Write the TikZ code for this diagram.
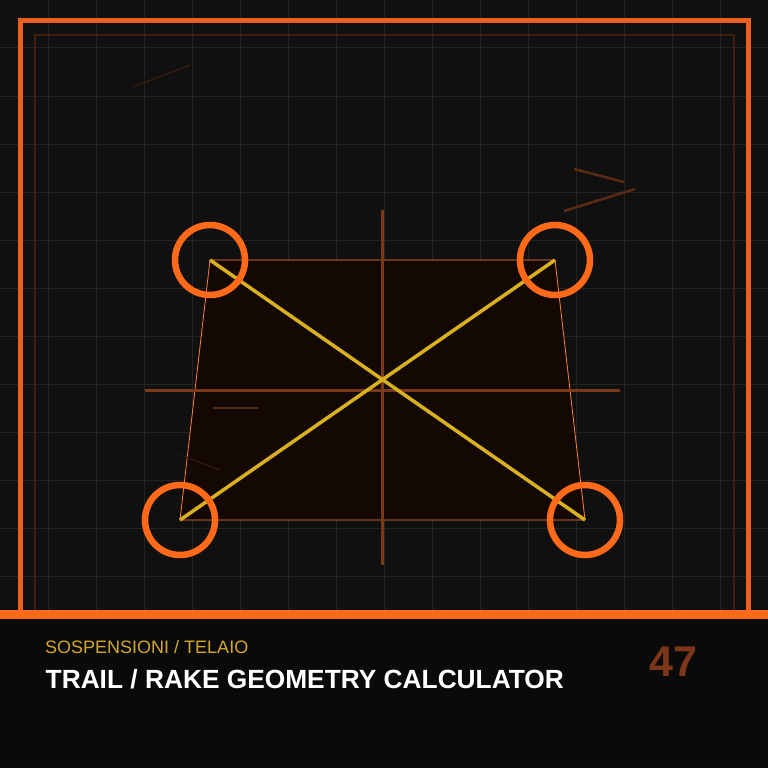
\documentclass[tikz,border=0pt]{standalone}
\usepackage{fontspec}
\setmainfont{Liberation Sans}
\definecolor{bgtop}{HTML}{101010}
\definecolor{bgbot}{HTML}{0A0A0A}
\definecolor{gridc}{HTML}{232323}
\definecolor{orng}{HTML}{FF6A1A}
\definecolor{frameo}{HTML}{EA601C}
\definecolor{darkbr}{HTML}{3E1E0E}
\definecolor{trapfill}{HTML}{140805}
\definecolor{gold}{HTML}{D9B020}
\definecolor{crossc}{HTML}{7A3A1A}
\definecolor{stray}{HTML}{5A2A14}
\definecolor{strayf}{HTML}{2E1710}
\definecolor{subt}{HTML}{D4A82A}
\definecolor{numc}{HTML}{7E3618}
\begin{document}
\begin{tikzpicture}[x=1pt,y=-1pt,
  ring/.style={circle,draw=orng,line width=6.5pt,minimum size=70pt,inner sep=0pt},
  diag/.style={draw=gold,line width=3.5pt},
  crossline/.style={draw=crossc,line width=3pt},
  txt/.style={anchor=base west,inner sep=0pt}]
\useasboundingbox (0,0) rectangle (768,768);
% backgrounds
\fill[bgtop] (0,0) rectangle (768,614);
\fill[bgbot] (0,614) rectangle (768,768);
% grid
\foreach \g in {48,96,...,720}{
  \draw[gridc,line width=1pt] (\g,0) -- (\g,610);
}
\foreach \g in {48,96,...,576}{
  \draw[gridc,line width=1pt] (0,\g) -- (768,\g);
}
% frames
\draw[darkbr,line width=1.5pt] (35,614) -- (35,35) -- (734,35) -- (734,614);
\draw[frameo,line width=4.5pt] (20.5,614) -- (20.5,20.5) -- (748.5,20.5) -- (748.5,614);
\fill[orng] (0,610) rectangle (768,619);
% stray lines
\draw[strayf!80!stray,line width=1.5pt] (133,87) -- (190,65);
\draw[stray,line width=2.5pt] (574,169) -- (624,182);
\draw[stray,line width=2.5pt] (564,211) -- (635,189);
% corners
\coordinate (tl) at (210,260);
\coordinate (tr) at (555,260);
\coordinate (bl) at (180,520);
\coordinate (br) at (585,520);
% trapezoid
\filldraw[fill=trapfill,draw=orng!85!white,line width=0.8pt] (tl) -- (tr) -- (br) -- (bl) -- cycle;
% inner stray lines
\draw[stray,line width=2pt] (213,408) -- (258,408);
\draw[strayf,line width=1.5pt] (180,455) -- (220,470);
% crosshair
\coordinate (vt) at (382,210);
\coordinate (vb) at (382,565);
\coordinate (hl) at (145,390);
\coordinate (hr) at (620,390);
\draw[crossline] (vt) -- (vb);
\draw[crossline] (hl) -- (hr);
% diagonals
\draw[diag] (tl) -- (br);
\draw[diag] (tr) -- (bl);
% rings
\node[ring] (ctl) at (tl) {};
\node[ring] (ctr) at (tr) {};
\node[ring] (cbl) at (bl) {};
\node[ring] (cbr) at (br) {};
% texts
\node[txt,text=subt,font=\fontsize{18}{18}\selectfont] (sub) at (45,653) {SOSPENSIONI / TELAIO};
\node[txt,text=white,font=\fontsize{26.3}{26.3}\selectfont\bfseries] (title) at (45.5,688) {TRAIL / RAKE GEOMETRY CALCULATOR};
\node[txt,text=numc,font=\fontsize{43}{43}\selectfont\bfseries] (num) at (649.5,676) {47};
\end{tikzpicture}
\end{document}
